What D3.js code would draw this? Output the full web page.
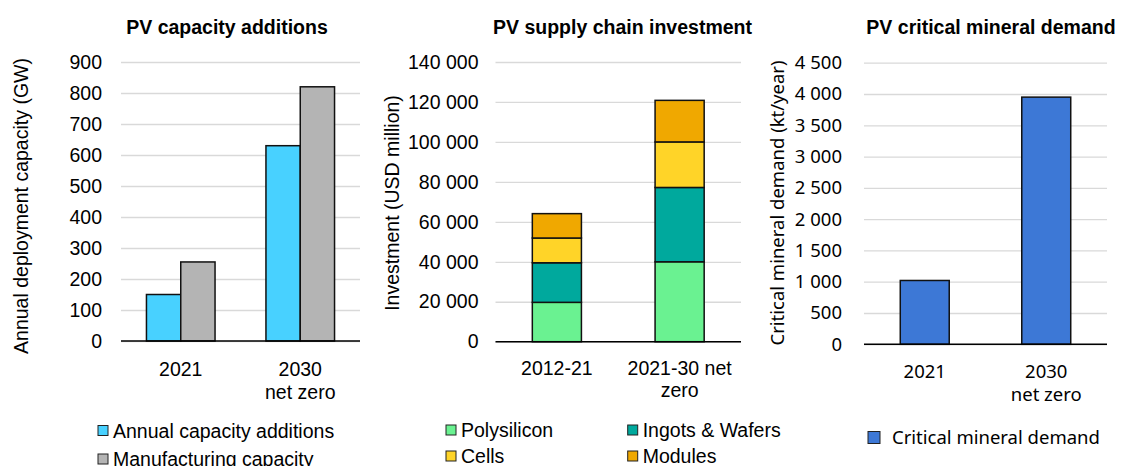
<!DOCTYPE html>
<html>
<head>
<meta charset="utf-8">
<script src="https://cdn.jsdelivr.net/npm/d3@7"></script>
<style>
  body { margin: 0; background: #fff; }
  svg { display: block; }
</style>
</head>
<body>
<div id="chart"></div>
<script>
// ---- data ----
const capCategories = ["2021", "2030\nnet zero"];
const capSeriesNames = ["Annual capacity additions", "Manufacturing capacity"];
const capAnnual = [150, 630];
const capManufacturing = [255, 820];
const capTicks = [0, 100, 200, 300, 400, 500, 600, 700, 800, 900];

const invCategories = ["2012-21", "2021-30 net\nzero"];
const invSeriesNames = ["Polysilicon", "Ingots & Wafers", "Cells", "Modules"];
const invPolysilicon = [19700, 40000];
const invIngots = [19800, 37200];
const invCells = [12400, 22800];
const invModules = [12200, 20800];
const invTicks = [0, 20000, 40000, 60000, 80000, 100000, 120000, 140000];

const minCategories = ["2021", "2030\nnet zero"];
const minSeriesNames = ["Critical mineral demand"];
const minDemand = [1020, 3950];
const minTicks = [0, 500, 1000, 1500, 2000, 2500, 3000, 3500, 4000, 4500];

// ---- setup ----
const ARIAL = "'Liberation Sans', Arial, sans-serif";
const SEGOE = "'Noto Sans', 'Open Sans', sans-serif";
const fmt = d3.formatLocale({decimal: ".", thousands: " ", grouping: [3], currency: ["", ""]}).format(",");

const svg = d3.select("#chart").append("svg")
  .attr("width", 1121)
  .attr("height", 466);

// builds scales, gridlines, tick labels, x labels and titles of one panel
function makePanel(p) {
  const x = d3.scaleBand()
    .domain(p.categories)
    .range([p.left, p.right])
    .paddingInner(p.pad)
    .paddingOuter(p.pad / 2);
  const y = d3.scaleLinear()
    .domain([0, p.max])
    .range([p.bottom, p.top]);

  const g = svg.append("g");

  g.append("g")
    .attr("transform", `translate(${p.left},0)`)
    .call(d3.axisLeft(y).tickValues(p.ticks).tickFormat(fmt)
      .tickSize(-(p.right - p.left)).tickPadding(p.tickPad))
    .call(a => a.select(".domain").remove())
    .call(a => a.selectAll(".tick line").attr("stroke", "#d9d9d9").attr("stroke-width", 1.3))
    .call(a => a.selectAll(".tick text")
      .attr("font-family", p.font)
      .attr("font-size", p.fontSize)
      .attr("fill", "#000"));

  // category labels
  const lab = g.append("g")
    .attr("font-family", p.font)
    .attr("font-size", p.fontSize)
    .attr("text-anchor", "middle");
  p.categories.forEach(c => {
    const t = lab.append("text").attr("x", x(c) + x.bandwidth() / 2);
    c.split("\n").forEach((line, i) => {
      t.append("tspan")
        .attr("x", x(c) + x.bandwidth() / 2)
        .attr("y", p.labelY + i * p.lineH)
        .text(line);
    });
  });

  // chart title
  g.append("text")
    .attr("x", p.titleX)
    .attr("y", 34)
    .attr("text-anchor", "middle")
    .attr("font-family", ARIAL)
    .attr("font-weight", "bold")
    .attr("font-size", 19.5)
    .text(p.title);

  // y axis title
  g.append("text")
    .attr("transform", `translate(${p.yTitleX},${p.yTitleY}) rotate(-90)`)
    .attr("text-anchor", "middle")
    .attr("dominant-baseline", "central")
    .attr("font-family", p.font)
    .attr("font-size", p.fontSize)
    .text(p.yTitle);

  return {g, x, y, p};
}

function baseline(panel) {
  const {g, y, p} = panel;
  g.append("line")
    .attr("x1", p.left).attr("x2", p.right)
    .attr("y1", y(0)).attr("y2", y(0))
    .attr("stroke", "#000")
    .attr("stroke-width", 1.5);
}

function legend(panel, items, lg) {
  const leg = panel.g.append("g")
    .attr("font-family", panel.p.font)
    .attr("font-size", lg.fontSize);
  items.forEach((it, i) => {
    const col = i % lg.cols, row = Math.floor(i / lg.cols);
    const gx = lg.x + col * lg.colW, gy = lg.y + row * lg.rowH;
    leg.append("rect")
      .attr("x", gx).attr("y", gy - lg.box / 2)
      .attr("width", lg.box).attr("height", lg.box)
      .attr("fill", it.color)
      .attr("stroke", "#222")
      .attr("stroke-width", 1);
    leg.append("text")
      .attr("x", gx + lg.box + lg.gap)
      .attr("y", gy)
      .attr("dy", "0.36em")
      .text(it.name);
  });
}

// ---- panel 1: PV capacity additions ----
const capColors = ["#48d1ff", "#b4b4b4"];
const p1 = makePanel({
  categories: capCategories, left: 121, right: 360, top: 62, bottom: 341,
  max: 900, ticks: capTicks, pad: 0.426, tickPad: 19,
  font: ARIAL, fontSize: 19.5, labelY: 375.5, lineH: 23,
  title: "PV capacity additions", titleX: 227,
  yTitle: "Annual deployment capacity (GW)", yTitleX: 21, yTitleY: 206
});
const capSeries = [capAnnual, capManufacturing];
const xs1 = d3.scaleBand().domain(capSeriesNames).range([0, p1.x.bandwidth()]);
capSeriesNames.forEach((name, si) => {
  p1.g.append("g").selectAll("rect")
    .data(capCategories.map((c, ci) => ({c, v: capSeries[si][ci]})))
    .join("rect")
      .attr("x", d => p1.x(d.c) + xs1(name))
      .attr("y", d => p1.y(d.v))
      .attr("width", xs1.bandwidth())
      .attr("height", d => p1.y(0) - p1.y(d.v))
      .attr("fill", capColors[si])
      .attr("stroke", "#111")
      .attr("stroke-width", 1.5);
});
baseline(p1);
legend(p1, capSeriesNames.map((n, i) => ({name: n, color: capColors[i]})),
  {x: 98, y: 430.5, cols: 1, colW: 0, rowH: 28.5, box: 10, gap: 5, fontSize: 19.5});

// ---- panel 2: PV supply chain investment ----
const invColors = ["#6af291", "#00a99d", "#ffd428", "#f0a800"];
const p2 = makePanel({
  categories: invCategories, left: 495.5, right: 741, top: 62, bottom: 341.7,
  max: 140000, ticks: invTicks, pad: 0.6, tickPad: 17,
  font: ARIAL, fontSize: 19.5, labelY: 375, lineH: 22,
  title: "PV supply chain investment", titleX: 622.5,
  yTitle: "Investment (USD million)", yTitleX: 392, yTitleY: 203
});
const invRows = invCategories.map((c, i) => ({
  category: c,
  "Polysilicon": invPolysilicon[i],
  "Ingots & Wafers": invIngots[i],
  "Cells": invCells[i],
  "Modules": invModules[i]
}));
const stacked = d3.stack().keys(invSeriesNames)(invRows);
p2.g.append("g").selectAll("g")
  .data(stacked)
  .join("g")
    .attr("fill", (d, i) => invColors[i])
  .selectAll("rect")
  .data(d => d)
  .join("rect")
    .attr("x", d => p2.x(d.data.category))
    .attr("y", d => p2.y(d[1]))
    .attr("width", p2.x.bandwidth())
    .attr("height", d => p2.y(d[0]) - p2.y(d[1]))
    .attr("stroke", "#111")
    .attr("stroke-width", 1.5);
baseline(p2);
legend(p2, invSeriesNames.map((n, i) => ({name: n, color: invColors[i]})),
  {x: 446, y: 430, cols: 2, colW: 181.7, rowH: 26, box: 10, gap: 5, fontSize: 19.5});

// ---- panel 3: PV critical mineral demand ----
const minColors = ["#3d78d6"];
const p3 = makePanel({
  categories: minCategories, left: 864, right: 1107, top: 62.7, bottom: 344.3,
  max: 4500, ticks: minTicks, pad: 0.597, tickPad: 22,
  font: SEGOE, fontSize: 18.5, labelY: 378, lineH: 22.5,
  title: "PV critical mineral demand", titleX: 991,
  yTitle: "Critical mineral demand (kt/year)", yTitleX: 776, yTitleY: 203
});
p3.g.append("g").selectAll("rect")
  .data(minCategories.map((c, i) => ({c, v: minDemand[i]})))
  .join("rect")
    .attr("x", d => p3.x(d.c))
    .attr("y", d => p3.y(d.v))
    .attr("width", p3.x.bandwidth())
    .attr("height", d => p3.y(0) - p3.y(d.v))
    .attr("fill", minColors[0])
    .attr("stroke", "#111")
    .attr("stroke-width", 1.5);
baseline(p3);
legend(p3, minSeriesNames.map((n, i) => ({name: n, color: minColors[i]})),
  {x: 868, y: 437.5, cols: 1, colW: 0, rowH: 26, box: 12, gap: 12, fontSize: 18.5});
</script>
</body>
</html>
